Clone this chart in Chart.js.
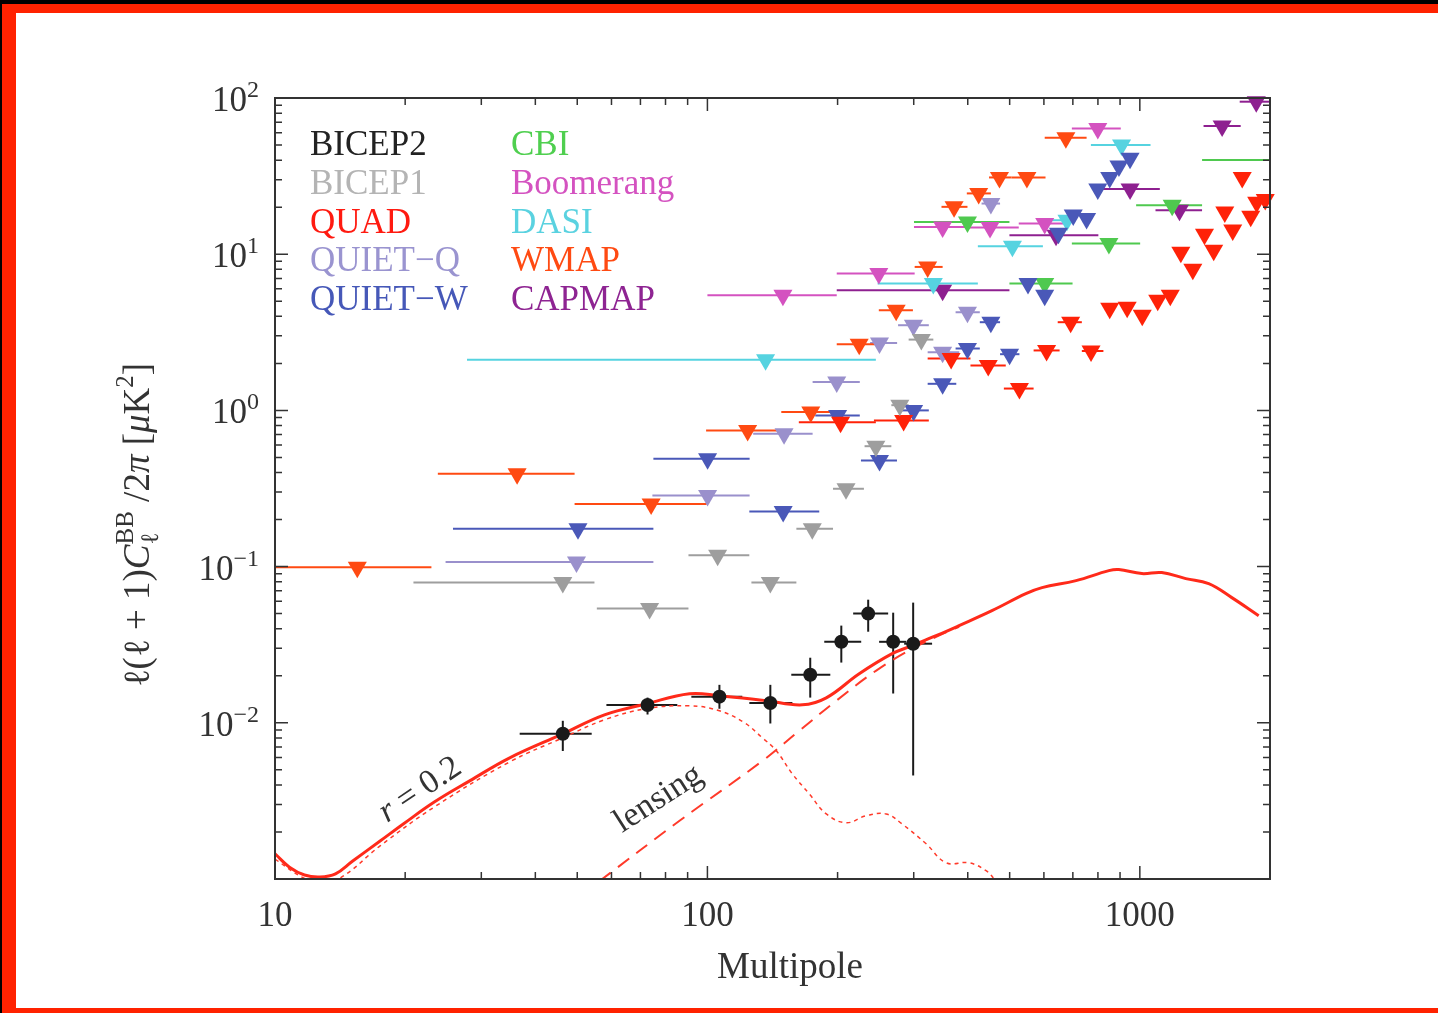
<!DOCTYPE html>
<html>
<head>
<meta charset="utf-8">
<script src="https://cdn.jsdelivr.net/npm/chart.js@4.4.1/dist/chart.umd.min.js"></script>
<style>
  html, body { margin: 0; padding: 0; background: #000; width: 1438px; height: 1013px; overflow: hidden; }
  #frame { position: absolute; left: 2px; top: 4px; width: 1460px; height: 1009px; box-sizing: border-box;
    border-top: 9px solid #ff2200; border-left: 14px solid #ff2200; border-bottom: 5px solid #ff2200; background: #fff; }
  #chart { position: absolute; left: 0; top: 0; }
</style>
</head>
<body>
<div id="frame"></div>
<canvas id="chart" width="1438" height="1013"></canvas>
<script>
// theory curves (r = 0.2 tensor + lensing)
const modelL = [10, 10.8, 11.7, 12.7, 13.8, 15.1, 17.5, 19.8, 23.4, 28.2, 34.9, 46.3, 57.8, 72.3, 90.9, 106.6,
  136.8, 165.8, 188.3, 224.4, 267.5, 297.5, 338, 382, 455, 545, 594, 712, 848, 894, 1011, 1124, 1277, 1443, 1632, 1883];
const modelTotal = [0.00145, 0.00119, 0.00106, 0.00103, 0.00108, 0.0013, 0.00175, 0.00225, 0.00312, 0.00425, 0.00597,
  0.0085, 0.01125, 0.01324, 0.01535, 0.0149, 0.01384, 0.01303, 0.01445, 0.0206, 0.0277, 0.0312, 0.0361, 0.0419,
  0.0522, 0.0671, 0.0733, 0.0813, 0.0942, 0.0957, 0.0902, 0.0916, 0.0838, 0.0778, 0.0633, 0.0485];
const tensorL = [10, 11.7, 12.7, 14.1, 17.5, 23.4, 34.9, 46.3, 57.8, 72.3, 90.9, 106.6, 121.8, 134, 144.3, 157.2,
  172, 188.3, 209.4, 232.9, 259, 282, 320.5, 356.5, 402.9, 441, 465];
const tensorV = [0.00134, 0.00101, 0.00098, 0.00101, 0.00163, 0.0029, 0.00562, 0.00801, 0.01045, 0.01231, 0.01285,
  0.01194, 0.01, 0.00801, 0.00662, 0.00471, 0.00351, 0.00261, 0.00229, 0.00254, 0.00261, 0.00225, 0.00168, 0.00127,
  0.00127, 0.00113, 0.00097];
const lensL = [56.3, 86.2, 134, 163.1, 198.6, 245.7, 297.5, 338, 382];
const lensV = [0.00097, 0.00236, 0.0057, 0.00889, 0.01384, 0.0216, 0.0298, 0.0355, 0.0412];

// BICEP2 detections
const bicep2L = [46.3, 72.7, 106.6, 139.8, 172.9, 204, 235.4, 268.9, 299.1];
const bicep2V = [0.0085, 0.013, 0.0147, 0.0134, 0.0203, 0.033, 0.05, 0.033, 0.0321];
const bicep2Lo = [36.8, 58.4, 91.8, 125, 156.3, 186.3, 217.3, 249.5, 285.1];
const bicep2Hi = [54, 85.2, 120.4, 157.2, 192.4, 226.8, 261.8, 288.2, 330.8];
const bicep2Vlo = [0.0066, 0.0113, 0.0123, 0.0099, 0.0145, 0.0243, 0.0383, 0.0154, 0.0046];
const bicep2Vhi = [0.0103, 0.0145, 0.0175, 0.0175, 0.0261, 0.0419, 0.0614, 0.0507, 0.0588];

// upper limits
const bicep1L = [46.3, 73.5, 105.6, 139.8, 174.8, 209.2, 245.2, 278.6, 312.4];
const bicep1V = [0.079, 0.054, 0.118, 0.079, 0.175, 0.315, 0.59, 1.08, 2.84];
const bicep1Lo = [20.9, 55.5, 90.4, 126.4, 160.6, 195.2, 230.9, 266.3, 292];
const bicep1Hi = [54.8, 90.4, 125, 160.6, 195.2, 230.1, 266.3, 292, 333];

const quadL = [203.2, 284.3, 366.1, 446.1, 526.7, 608.7, 691.9, 771.2, 851.9, 934.8, 1013, 1100, 1176, 1244, 1326,
  1411, 1482, 1572, 1640, 1725, 1805, 1863, 1950];
const quadV = [0.841, 0.863, 2.15, 1.94, 1.38, 2.42, 3.67, 2.4, 4.51, 4.57, 4.06, 5.07, 5.46, 10.3, 8.01, 13.4, 10.6,
  18.6, 14.3, 31, 17.5, 21.5, 22.4];
const quadLo = [162.7, 242.7, 323.1, 405.8, 484.8, 568, 645.8, 734.3];
const quadHi = [245.2, 325.1, 405.8, 489.7, 568, 652.3, 734.3, 823.7];

const quietQL = [49.8, 100.1, 150.4, 199.1, 250, 299.5, 349.9, 399.4, 452.4];
const quietQV = [0.107, 0.285, 0.709, 1.52, 2.7, 3.51, 2.36, 4.25, 21.1];
const quietQLo = [24.8, 74.6, 127.6, 175.1, 237.8, 276, 323.1, 374.9, 430.5];
const quietQHi = [75, 125.2, 175.1, 225.1, 274.6, 325.1, 382.3, 426.5, 475.1];

const quietWL = [50.2, 100.1, 149.7, 200, 250, 299.8, 349.9, 399.4, 452.4, 499.8, 551.3, 602.6, 648.5, 701.5, 753.2,
  799.5, 851.9, 894.8, 949.3];
const quietWV = [0.175, 0.49, 0.225, 0.929, 0.478, 1.0, 1.48, 2.49, 3.67, 2.29, 6.49, 5.46, 13.6, 17.8, 16.9, 26.1,
  31, 36.7, 41.1];
const quietWLo = [25.8, 75, 125, 177.6, 226.5, 276, 323.1, 374.9, 426.5, 475.1];
const quietWHi = [75, 125.2, 181.4, 225.1, 274.4, 325.1, 376.3, 426.5, 475.1, 526.7];

const cbiL = [399.4, 602.6, 848.2, 1188, 2400];
const cbiV = [16.1, 6.49, 11.7, 20.6, 40.1];
const cbiLo = [300.4, 499.4, 696.3, 980.5, 1393];
const cbiHi = [499.4, 698.9, 1001.7, 1393, 3500];

const boomL = [149.5, 249.1, 349.9, 450.4, 602.6, 799.5];
const boomV = [5.46, 7.52, 14.96, 14.8, 15.7, 63.9];
const boomLo = [100, 199.1, 300.4, 398.6, 524.8, 696.3];
const boomHi = [199.1, 301.5, 398.6, 524.8, 665.3, 903.5];

const dasiL = [136.3, 333, 507.4, 678.4, 907.3];
const dasiV = [2.11, 6.49, 11.25, 16.5, 50];
const dasiLo = [27.8, 247.5, 422.1, 596.8, 770.6];
const dasiHi = [245.2, 422.1, 596.8, 691.9, 1058.6];

const wmapL = [15.5, 36.3, 74.1, 123.9, 173.4, 224.4, 273.2, 323.1, 371.9, 424, 473.6, 548.1, 674.5];
const wmapV = [0.099, 0.393, 0.252, 0.744, 0.975, 2.65, 4.38, 8.29, 20.1, 24.5, 31, 31, 55.7];
const wmapLo = [10, 23.8, 49.3, 99.3, 148.2, 199.1, 249.1, 301.5, 347.8, 398, 448, 505, 602.6];
const wmapHi = [23, 49.3, 99.6, 149.5, 199.1, 250, 298.7, 349.9, 399.4, 452.4, 505, 605.2, 753.2];

const capmapL = [349.9, 640, 949.3, 1235, 1550, 1859];
const capmapV = [5.88, 13.2, 26.1, 19.1, 66.1, 94.7];
const capmapLo = [199.1, 499.4, 818.4, 1087, 1404, 1702];
const capmapHi = [499.4, 801.9, 1112.3, 1392.8, 1711, 2000];

const xTickLabels = ['10', '100', '1000'];
const yTickPowers = [-2, -1, 0, 1, 2];

const SERIF = '"Liberation Serif", "DejaVu Serif", serif';
const pts = (xs, ys) => xs.map((v, i) => ({ x: v, y: ys[i] }));

function limits(label, color, xs, ys, lo, hi) {
  return {
    label, data: pts(xs, ys), binLo: lo, binHi: hi, barColor: color,
    pointStyle: 'triangle', pointRotation: 180, pointRadius: 11,
    pointBackgroundColor: color, pointBorderWidth: 0, showLine: false,
    clip: { left: 12, top: 12, right: 12, bottom: 0 }
  };
}

const legendItems = [
  ['BICEP2', '#222222', 0, 0], ['BICEP1', '#b4b4b4', 0, 1], ['QUAD', '#ff1a10', 0, 2],
  ['QUIET\u2212Q', '#9a94d0', 0, 3], ['QUIET\u2212W', '#4658b8', 0, 4],
  ['CBI', '#4fcf4f', 1, 0], ['Boomerang', '#d452c0', 1, 1], ['DASI', '#5ad2e0', 1, 2],
  ['WMAP', '#ff4a12', 1, 3], ['CAPMAP', '#8e2492', 1, 4]
];

function drawRich(ctx, pieces, x, y) {
  let cx = x;
  pieces.forEach(p => {
    ctx.font = p.f;
    ctx.fillText(p.t, cx, y + (p.dy || 0));
    if (p.adv !== false) cx += ctx.measureText(p.t).width;
  });
  return cx - x;
}
function richWidth(ctx, pieces) {
  let w = 0;
  pieces.forEach(p => { ctx.font = p.f; if (p.adv !== false) w += ctx.measureText(p.t).width; });
  return w;
}

const overlay = {
  id: 'overlay',
  beforeDatasetsDraw(chart) {
    const { ctx, chartArea: a, scales: { x, y } } = chart;
    ctx.save();
    ctx.beginPath();
    ctx.rect(a.left, a.top - 8, a.right - a.left, a.bottom - a.top + 8);
    ctx.clip();
    ctx.lineWidth = 2;
    chart.data.datasets.forEach(ds => {
      if (!ds.binLo) return;
      ctx.strokeStyle = ds.barColor;
      ds.data.forEach((p, i) => {
        const py = y.getPixelForValue(p.y);
        if (ds.binLo[i] != null) {
          ctx.beginPath();
          ctx.moveTo(x.getPixelForValue(ds.binLo[i]), py);
          ctx.lineTo(x.getPixelForValue(ds.binHi[i]), py);
          ctx.stroke();
        }
        if (ds.errLo) {
          const px = x.getPixelForValue(p.x);
          ctx.beginPath();
          ctx.moveTo(px, y.getPixelForValue(ds.errLo[i]));
          ctx.lineTo(px, y.getPixelForValue(ds.errHi[i]));
          ctx.stroke();
        }
      });
    });
    ctx.restore();
  },
  afterDraw(chart) {
    const { ctx, chartArea: a, scales: { x, y } } = chart;
    ctx.save();
    // axes box + inward ticks
    ctx.strokeStyle = '#333';
    ctx.lineWidth = 2;
    ctx.strokeRect(a.left, a.top, a.right - a.left, a.bottom - a.top);
    ctx.lineWidth = 1.5;
    ctx.beginPath();
    [10, 100, 1000].forEach(dec => {
      for (let m = 1; m <= 9; m++) {
        const v = m * dec;
        if (v > 2000) break;
        const px = x.getPixelForValue(v);
        const len = m === 1 ? 13 : 7;
        ctx.moveTo(px, a.bottom); ctx.lineTo(px, a.bottom - len);
        ctx.moveTo(px, a.top); ctx.lineTo(px, a.top + len);
      }
    });
    [0.001, 0.01, 0.1, 1, 10].forEach(dec => {
      for (let m = 1; m <= 9; m++) {
        const py = y.getPixelForValue(m * dec);
        const len = m === 1 ? 13 : 7;
        ctx.moveTo(a.left, py); ctx.lineTo(a.left + len, py);
        ctx.moveTo(a.right, py); ctx.lineTo(a.right - len, py);
      }
    });
    ctx.stroke();

    // tick labels
    ctx.fillStyle = '#333';
    ctx.textBaseline = 'alphabetic';
    ctx.textAlign = 'center';
    ctx.font = `35px ${SERIF}`;
    xTickLabels.forEach(t => ctx.fillText(t, x.getPixelForValue(Number(t)), 926));
    ctx.textAlign = 'left';
    yTickPowers.forEach(k => {
      const py = y.getPixelForValue(Math.pow(10, k));
      const pieces = [
        { t: '10', f: `35px ${SERIF}` },
        { t: k < 0 ? '\u2212' + (-k) : String(k), f: `24px ${SERIF}`, dy: -14 }
      ];
      const w = richWidth(ctx, pieces);
      drawRich(ctx, pieces, 259 - w, py + 13);
    });

    // axis titles
    ctx.textAlign = 'center';
    ctx.font = `37px ${SERIF}`;
    ctx.fillText('Multipole', 790, 978);
    ctx.textAlign = 'left';
    const yt = [
      { t: '\u2113(\u2113 + 1)', f: `37px ${SERIF}` },
      { t: 'C', f: `italic 37px ${SERIF}` },
      { t: '\u2113', f: `25px ${SERIF}`, dy: 9, adv: false },
      { t: 'BB', f: `25px ${SERIF}`, dy: -16 },
      { t: ' /2', f: `37px ${SERIF}` },
      { t: '\u03c0', f: `italic 37px ${SERIF}` },
      { t: ' [', f: `37px ${SERIF}` },
      { t: '\u03bc', f: `italic 37px ${SERIF}` },
      { t: 'K', f: `37px ${SERIF}` },
      { t: '2', f: `25px ${SERIF}`, dy: -16 },
      { t: ']', f: `37px ${SERIF}` }
    ];
    ctx.save();
    ctx.translate(149, 525);
    ctx.rotate(-Math.PI / 2);
    drawRich(ctx, yt, -richWidth(ctx, yt) / 2, 0);
    ctx.restore();

    // legend (text only)
    legendItems.forEach(([name, color, col, row]) => {
      ctx.fillStyle = color;
      ctx.font = `35px ${SERIF}`;
      ctx.fillText(name, col ? 511 : 310, 155 + row * 38.8);
    });

    // curve annotations
    ctx.fillStyle = '#333';
    ctx.save();
    ctx.translate(387, 823);
    ctx.rotate(-0.59);
    drawRich(ctx, [{ t: 'r', f: `italic 34px ${SERIF}` }, { t: ' = 0.2', f: `34px ${SERIF}` }], 0, 0);
    ctx.restore();
    ctx.save();
    ctx.translate(622, 833);
    ctx.rotate(-0.57);
    ctx.font = `34px ${SERIF}`;
    ctx.fillText('lensing', 0, 0);
    ctx.restore();
    ctx.restore();
  }
};

const ctx = document.getElementById('chart').getContext('2d');
new Chart(ctx, {
  type: 'scatter',
  data: {
    datasets: [
      {
        label: 'BICEP2', data: pts(bicep2L, bicep2V), binLo: bicep2Lo, binHi: bicep2Hi,
        errLo: bicep2Vlo, errHi: bicep2Vhi, barColor: '#1a1a1a',
        pointStyle: 'circle', pointRadius: 7, pointBackgroundColor: '#1a1a1a', pointBorderWidth: 0, showLine: false
      },
      {
        label: 'total', data: pts(modelL, modelTotal), showLine: true, pointRadius: 0,
        borderColor: '#ff2a1a', borderWidth: 3, tension: 0.4, clip: 0
      },
      {
        label: 'tensor', data: pts(tensorL, tensorV), showLine: true, pointRadius: 0,
        borderColor: '#ff3a2a', borderWidth: 1.5, borderDash: [4, 4], tension: 0.4, clip: 0
      },
      {
        label: 'lensing', data: pts(lensL, lensV), showLine: true, pointRadius: 0,
        borderColor: '#ff3a2a', borderWidth: 2, borderDash: [14, 9], tension: 0.4, clip: 0
      },
      limits('BICEP1', '#9e9e9e', bicep1L, bicep1V, bicep1Lo, bicep1Hi),
      limits('QUAD', '#ff2208', quadL, quadV, quadLo, quadHi),
      limits('QUIET-Q', '#9a90cc', quietQL, quietQV, quietQLo, quietQHi),
      limits('QUIET-W', '#4a58b8', quietWL, quietWV, quietWLo, quietWHi),
      limits('CBI', '#4fc94f', cbiL, cbiV, cbiLo, cbiHi),
      limits('Boomerang', '#d452c0', boomL, boomV, boomLo, boomHi),
      limits('DASI', '#56d3e0', dasiL, dasiV, dasiLo, dasiHi),
      limits('WMAP', '#ff4a12', wmapL, wmapV, wmapLo, wmapHi),
      limits('CAPMAP', '#8e2090', capmapL, capmapV, capmapLo, capmapHi)
    ]
  },
  options: {
    responsive: false,
    animation: false,
    events: [],
    layout: { autoPadding: false, padding: { left: 275, top: 98, right: 168, bottom: 134 } },
    scales: {
      x: { type: 'logarithmic', min: 10, max: 2000, display: false },
      y: { type: 'logarithmic', min: 0.001, max: 100, display: false }
    },
    plugins: { legend: { display: false }, tooltip: { enabled: false } }
  },
  plugins: [overlay]
});
</script>
</body>
</html>
